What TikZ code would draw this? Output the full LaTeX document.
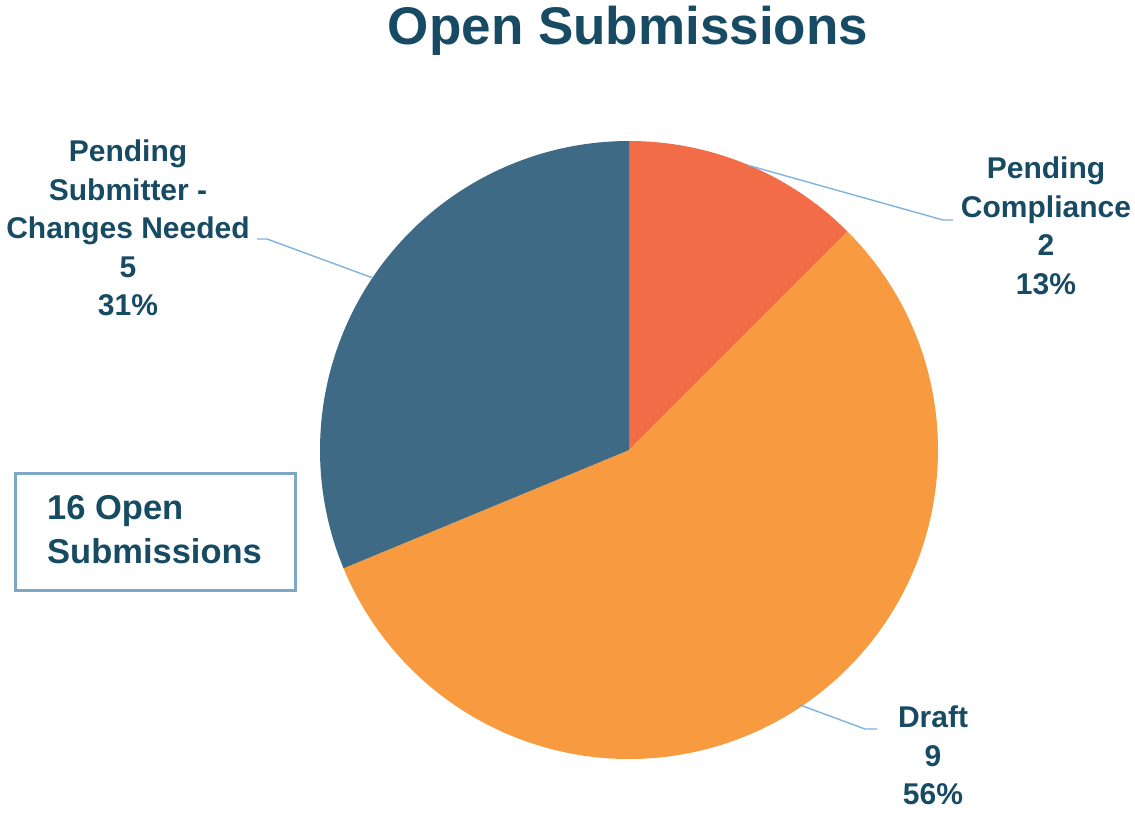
\documentclass[tikz,border=0pt]{standalone}
\usepackage{fontspec}
\setmainfont{Liberation Sans}
\definecolor{txt}{HTML}{174B63}
\definecolor{sliceblue}{HTML}{3E6A85}
\definecolor{slicered}{HTML}{F26C47}
\definecolor{sliceorange}{HTML}{F89A3F}
\definecolor{leader}{HTML}{80B2DE}
\definecolor{boxc}{HTML}{7CA8C5}
\tikzset{
  lbl/.style={text=txt, font=\bfseries\fontsize{30}{38.5}\selectfont, align=center, inner sep=0pt, anchor=north},
  leaderline/.style={draw=leader, line width=1.4pt},
}
\begin{document}
\begin{tikzpicture}[x=1pt,y=-1pt]
\useasboundingbox (0,0) rectangle (1135,812);
% title
\node[text=txt, font=\bfseries\fontsize{53}{60}\selectfont, anchor=base, inner sep=0pt] (title) at (628,44) {Open Submissions};
% pie
\coordinate (c) at (629,450);
\fill[slicered] (c) -- ++(90:309pt) arc[start angle=90, end angle=45, radius=309pt] -- cycle;
\fill[sliceorange] (c) -- ++(45:309pt) arc[start angle=45, end angle=-157.5, radius=309pt] -- cycle;
\fill[sliceblue] (c) -- ++(202.5:309pt) arc[start angle=202.5, end angle=90, radius=309pt] -- cycle;
% labels
\node[lbl] (lsub) at (128,140) {Pending\\Submitter -\\Changes Needed\\5\\31\%};
\node[lbl] (lcomp) at (1046,157) {Pending\\Compliance\\2\\13\%};
\node[lbl] (ldraft) at (933,706) {Draft\\9\\56\%};
% leader lines
\coordinate (esub) at (373,278);
\coordinate (bsub) at (267,239);
\coordinate (tsub) at (257,239);
\coordinate (ecomp) at (747,165);
\coordinate (bcomp) at (943,220);
\coordinate (tcomp) at (953,220);
\coordinate (edraft) at (800,705);
\coordinate (bdraft) at (865,729);
\coordinate (tdraft) at (877,729);
\draw[leaderline] (esub) -- (bsub) -- (tsub);
\draw[leaderline] (ecomp) -- (bcomp) -- (tcomp);
\draw[leaderline] (edraft) -- (bdraft) -- (tdraft);
% total box
\node[draw=boxc, line width=3pt, minimum width=280pt, minimum height=117pt, inner sep=0pt] (total) at (155.5,532) {};
\node[text=txt, font=\bfseries\fontsize{34.5}{44}\selectfont, align=left, inner sep=0pt, anchor=north west] (totaltext) at (47,495) {16 Open\\Submissions};
\end{tikzpicture}
\end{document}
